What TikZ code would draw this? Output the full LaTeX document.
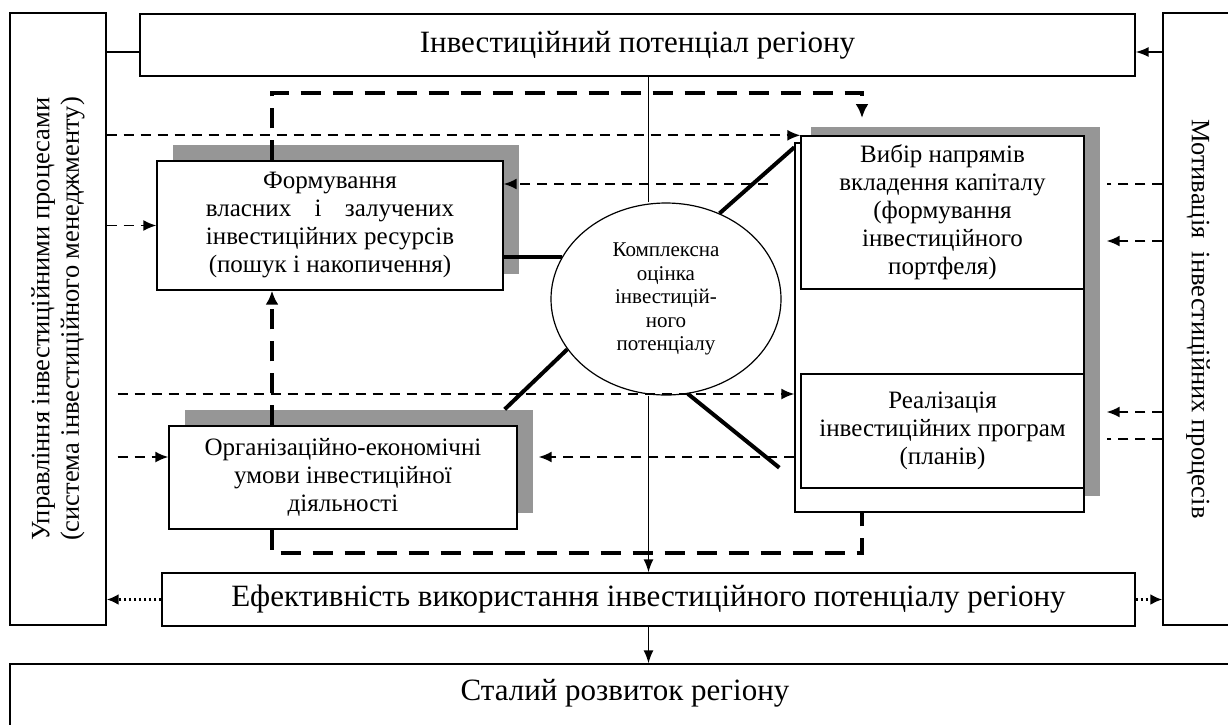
\documentclass[tikz,border=0pt]{standalone}
\usepackage{fontspec}
\setmainfont{Liberation Serif}
\usepackage{calc}
\usetikzlibrary{arrows.meta,shapes.geometric,shadows}
\definecolor{shadowgray}{RGB}{150,150,150}
\newcommand\potfont{\fontsize{31}{35}\selectfont}
\newcommand\blockfont{\fontsize{25}{28}\selectfont}
\newcommand\ovalfont{\fontsize{21}{23.5}\selectfont}
\newcommand\sidefont{\fontsize{26.5}{29.5}\selectfont}

\begin{document}
\begin{tikzpicture}[x=1pt,y=-1pt,
  box/.style={draw,line width=1.4pt,fill=white,inner sep=0pt,align=center},
  shadowed/.style={drop shadow={shadow xshift=16pt,shadow yshift=16pt,fill=shadowgray,opacity=1}},
  thindash/.style={dash pattern=on 10pt off 7pt,line width=1.7pt},
  thinarrow/.style={thindash,-{Latex[length=13pt,width=11pt]}},
  thickdash/.style={dash pattern=on 20pt off 12pt,line width=4pt},
  thickline/.style={line width=4pt},
  dotarrow/.style={dash pattern=on 2.5pt off 2.5pt,line width=3pt,-{Latex[length=12pt,width=11pt]}},
  solidarrow/.style={line width=1.5pt,-{Latex[length=13pt,width=10pt]}}]
  \useasboundingbox (0,0) rectangle (1228,724);
  % side blocks
  \node[box,minimum width=96,minimum height=612] (mgmt) at (58,319) {};
  \node[rotate=90,align=center,font=\sidefont] (mgmttext) at (mgmt)
    {Управління інвестиційними процесами\\(система інвестиційного менеджменту)};
  \node[box,minimum width=70,minimum height=612] (motiv) at (1198,319) {};
  \node[rotate=-90,font=\sidefont] (motivtext) at (motiv) {Мотивація\ \ інвестиційних процесів};
  % top and bottom blocks
  \node[box,minimum width=995,minimum height=62,font=\potfont] (pot) at (637.5,45) {Інвестиційний потенціал регіону};
  \node[box,minimum width=973,minimum height=53,font=\potfont] (eff) at (648.5,599.5)
    {Ефективність використання інвестиційного потенціалу регіону};
  \node[box,minimum width=1230,text height=36,text depth=50,anchor=base,font=\potfont] (stal) at (625,700)
    {Сталий розвиток регіону};
  % inner blocks
  \node[box,shadowed,minimum width=346,minimum height=129,font=\blockfont] (form) at (330,225.5)
    {Формування\\\makebox[\widthof{інвестиційних ресурсів}][s]{власних\hfill і\hfill залучених}\\інвестиційних ресурсів\\(пошук і накопичення)};
  \node[box,shadowed,minimum width=348,minimum height=103,font=\blockfont] (org) at (343,477.5)
    {Організаційно-економічні\\умови інвестиційної\\діяльності};
  \node[box,shadowed,minimum width=289,minimum height=369] (grp) at (939.5,327.5) {};
  \node[box,minimum width=283,minimum height=153,font=\blockfont] (vyb) at (942.5,212.5)
    {Вибір напрямів\\вкладення капіталу\\(формування\\інвестиційного\\портфеля)};
  \node[box,minimum width=283,minimum height=114,font=\blockfont] (real) at (942.5,431)
    {Реалізація\\інвестиційних програм\\(планів)};
  \node[draw,ellipse,line width=1.2pt,fill=white,minimum width=230,minimum height=192,inner sep=0pt,
    align=center,font=\ovalfont] (ell) at (666,299)
    {Комплексна\\оцінка\\інвестицій-\\ного\\потенціалу};

  \coordinate (lx) at ([xshift=11pt]mgmt.east);
  \coordinate (rx) at ([xshift=22pt]grp.east);
  \coordinate (dl) at (272,0);
  \coordinate (dr) at (862,0);
  \coordinate (formin) at (768,184);
  \coordinate (orgtip) at ([xshift=21pt]org.east);

  % solid connectors
  \draw[line width=1.5pt] (mgmt.east |- 0,52) -- (pot.west |- 0,52);
  \draw[solidarrow] (motiv.west |- 0,52) -- (pot.east |- 0,52);
  \draw[line width=1.5pt] (pot.south -| eff.north) -- (ell.north -| eff.north);
  \draw[solidarrow] (ell.south -| eff.north) -- (eff.north);
  \draw[solidarrow] (eff.south) -- (eff.south |- stal.north);
  \draw[dotarrow] (eff.west) -- (eff.west -| mgmt.east);
  \draw[dotarrow] (eff.east) -- (eff.east -| motiv.west);

  % thin dashed
  \draw[thinarrow] (mgmt.east |- vyb.north west) -- (vyb.north west);
  \draw[thinarrow] (mgmt.east |- form.west) -- (form.west);
  \draw[thinarrow] (lx |- 0,394) -- (grp.west |- 0,394);
  \draw[thinarrow] (lx |- 0,457) -- (org.west |- 0,457);
  \draw[thinarrow] (formin) -- (formin -| form.east);
  \draw[thinarrow] (grp.west |- 0,457) -- (orgtip |- 0,457);
  \foreach \y/\s in {184/thindash,241/thinarrow,412/thinarrow,439/thindash}
    \draw[\s] (motiv.west |- 0,\y) -- (rx |- 0,\y);

  % thick links to the oval
  \draw[thickline] (form.east |- ell.158) -- (ell.158);
  \draw[thickline] (ell.58) -- ([yshift=-5pt]grp.north west);
  \draw[thickline] (ell.207) -- ([xshift=-13pt,yshift=16pt]org.north east);
  \draw[thickline] (ell.283) -- ([xshift=-15pt,yshift=45pt]grp.south west);

  % thick dashed loops
  \draw[thickdash,-{Latex[length=14pt,width=13pt]}] (form.north -| dl) -- (dl |- 0,93) -- (dr |- 0,93) -- (dr |- 0,118);
  \draw[thickdash,-{Latex[length=14pt,width=13pt]}] (org.north -| dl) -- (form.south -| dl);
  \draw[thickdash] (org.south -| dl) -- (dl |- 0,553) -- (dr |- 0,553) -- (dr |- grp.south);
\end{tikzpicture}
\end{document}
